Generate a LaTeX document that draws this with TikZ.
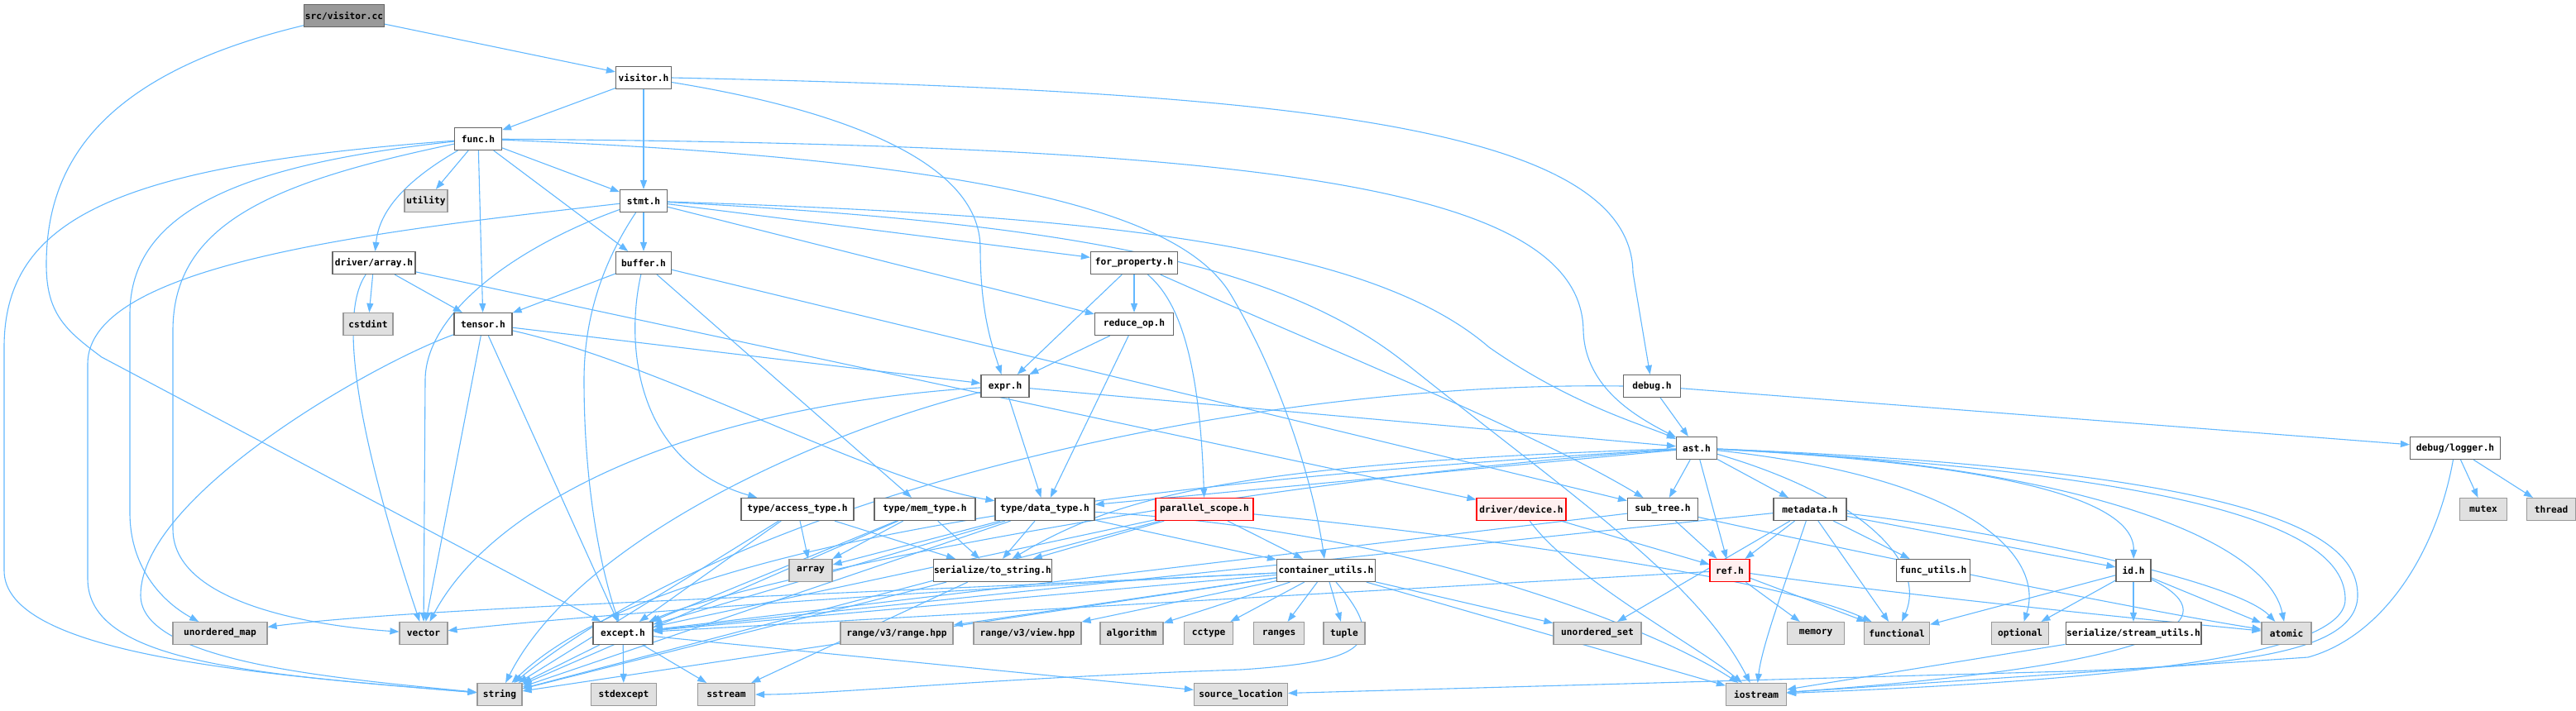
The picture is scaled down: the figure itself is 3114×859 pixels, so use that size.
\documentclass[tikz,border=0pt]{standalone}
\usepackage{fontspec}
\newfontfamily\dox{DejaVu Sans Mono}
\usetikzlibrary{arrows.meta}
\definecolor{edgeblue}{HTML}{63B8FF}
\definecolor{boxline}{HTML}{666666}
\definecolor{sysline}{HTML}{999999}
\definecolor{sysfill}{HTML}{E0E0E0}
\definecolor{rootfill}{HTML}{999999}
\definecolor{redline}{HTML}{FF0000}
\definecolor{redfill}{HTML}{FFF0F0}
\pgfdeclarelayer{bg}
\pgfsetlayers{bg,main}
\tikzset{
  hdr/.style={draw=boxline, fill=white, line width=0.6pt, minimum height=13.5pt,
    inner xsep=0.5pt, inner ysep=0pt, font=\dox\bfseries\fontsize{5.6}{6}\selectfont},
  sys/.style={hdr, draw=sysline, fill=sysfill},
  redh/.style={hdr, draw=redline, fill=redfill},
  root/.style={hdr, draw=boxline, fill=rootfill},
  bw/.style={minimum width=#1*0.5pt},
  con/.style={draw=edgeblue, line width=0.55pt, -{Triangle[length=5.5pt,width=4pt]}}
}
\begin{document}
\begin{tikzpicture}[x=0.5pt,y=-0.5pt]
\useasboundingbox (0,0) rectangle (3114,859);
% nodes
\node[root, bw=94] (cc) at (416,19) {src/visitor.cc};
\node[hdr, bw=67] (visitor) at (778,94) {visitor.h};
\node[hdr, bw=57] (func) at (578,168) {func.h};
\node[sys, bw=52] (utility) at (515,243) {utility};
\node[hdr, bw=57] (stmt) at (778,243) {stmt.h};
\node[hdr, bw=100] (darray) at (452,318) {driver/array.h};
\node[hdr, bw=67] (buffer) at (778,318) {buffer.h};
\node[sys, bw=60] (cstdint) at (445,392) {cstdint};
\node[hdr, bw=70] (tensor) at (584,392) {tensor.h};
\node[hdr, bw=105] (forprop) at (1371,318) {for\_property.h};
\node[hdr, bw=95] (reduceop) at (1371,392) {reduce\_op.h};
\node[hdr, bw=58] (expr) at (1215,467) {expr.h};
\node[hdr, bw=69] (debug) at (1997,467) {debug.h};
\node[hdr, bw=49] (ast) at (2051,542) {ast.h};
\node[hdr, bw=109] (logger) at (2968,542) {debug/logger.h};
\node[hdr, bw=136] (accesstype) at (964,616) {type/access\_type.h};
\node[hdr, bw=122] (memtype) at (1118,616) {type/mem\_type.h};
\node[hdr, bw=120] (datatype) at (1263,616) {type/data\_type.h};
\node[redh, bw=118] (parscope) at (1456,616) {parallel\_scope.h};
\node[redh, bw=108] (device) at (1839,616) {driver/device.h};
\node[hdr, bw=85] (subtree) at (2010,616) {sub\_tree.h};
\node[hdr, bw=88] (metadata) at (2188,616) {metadata.h};
\node[sys, bw=57] (mutex) at (3002,616) {mutex};
\node[sys, bw=59] (thread) at (3084,616) {thread};
\node[hdr, bw=135] (tostring) at (1200,690) {serialize/to\_string.h};
\node[sys, bw=52] (array) at (980,690) {array};
\node[hdr, bw=119] (cutils) at (1603,690) {container\_utils.h};
\node[redh, bw=48] (ref) at (2091,690) {ref.h};
\node[hdr, bw=89] (funcutils) at (2337,690) {func\_utils.h};
\node[hdr, bw=42] (id) at (2579,690) {id.h};
\node[sys, bw=114] (umap) at (266,766) {unordered\_map};
\node[sys, bw=58] (vector) at (512,766) {vector};
\node[hdr, bw=72] (except) at (753,766) {except.h};
\node[sys, bw=136] (rangehpp) at (1084,766) {range/v3/range.hpp};
\node[sys, bw=130] (viewhpp) at (1242,766) {range/v3/view.hpp};
\node[sys, bw=76] (algorithm) at (1368,766) {algorithm};
\node[sys, bw=59] (cctype) at (1461,766) {cctype};
\node[sys, bw=61] (ranges) at (1546,766) {ranges};
\node[sys, bw=50] (tuple) at (1625,766) {tuple};
\node[sys, bw=106] (uset) at (1931,766) {unordered\_set};
\node[sys, bw=69] (memory) at (2195,766) {memory};
\node[sys, bw=79] (functional) at (2293,766) {functional};
\node[sys, bw=69] (optional) at (2442,766) {optional};
\node[hdr, bw=156] (streamutils) at (2579,766) {serialize/stream\_utils.h};
\node[sys, bw=60] (atomic) at (2764,766) {atomic};
\node[sys, bw=54] (string) at (604,840) {string};
\node[sys, bw=79] (stdexcept) at (754,840) {stdexcept};
\node[sys, bw=69] (sstream) at (878,840) {sstream};
\node[sys, bw=113] (sourceloc) at (1500,840) {source\_location};
\node[sys, bw=73] (iostream) at (2123,840) {iostream};

\begin{pgfonlayer}{bg}
% root
\draw[con] (cc) -- (visitor);
\draw[con] (cc) .. controls (120,90) and (56,200) .. (56,320) .. controls (56,380) and (80,400) .. (123,432) -- (except);
% visitor.h
\draw[con] (visitor) -- (func);
\draw[con] (visitor) -- (stmt);
\draw[con] (visitor) .. controls (1000,130) and (1185,190) .. (1185,300) .. controls (1185,380) and (1200,420) .. (expr);
\draw[con] (visitor.east) .. controls (1550,110) and (1972,150) .. (1974,330) -- (debug);
% func.h
\draw[con] (func) -- (utility);
\draw[con] (func) .. controls (470,230) and (457,270) .. (darray);
\draw[con] (func) -- (tensor);
\draw[con] (func) -- (stmt);
\draw[con] (func) -- (buffer);
\draw[con] (func) .. controls (150,200) and (5,260) .. (5,420) -- (5,690) .. controls (5,790) and (300,815) .. (string);
\draw[con] (func) .. controls (280,200) and (157,260) .. (157,380) -- (157,620) .. controls (157,690) and (200,730) .. (umap);
\draw[con] (func) .. controls (330,220) and (209,270) .. (209,400) -- (209,640) .. controls (209,740) and (420,760) .. (vector);
\draw[con] (func) .. controls (1500,175) and (1912,220) .. (1914,400) .. controls (1916,470) and (1980,505) .. (ast);
\draw[con] (func) .. controls (1250,195) and (1440,270) .. (1490,360) .. controls (1555,470) and (1590,600) .. (cutils);
% stmt.h
\draw[con] (stmt) -- (buffer);
\draw[con] (stmt) -- (forprop);
\draw[con] (stmt) -- (reduceop);
\draw[con] (stmt) .. controls (450,280) and (106,320) .. (106,440) -- (106,700) .. controls (106,800) and (300,815) .. (string);
\draw[con] (stmt) .. controls (620,300) and (514,380) .. (514,460) -- (vector);
\draw[con] (stmt) .. controls (720,330) and (706,400) .. (706,460) .. controls (706,600) and (730,700) .. (except);
\draw[con] (stmt) .. controls (1300,260) and (1650,290) .. (1800,420) .. controls (1900,490) and (1990,515) .. (ast);
\draw[con] (stmt) .. controls (1300,270) and (1550,320) .. (1700,440) .. controls (1900,600) and (2050,700) .. (iostream);
% driver/array.h
\draw[con] (darray) -- (cstdint);
\draw[con] (darray) -- (tensor);
\draw[con] (darray) .. controls (395,400) and (470,640) .. (vector);
\draw[con] (darray) -- (device);
% buffer.h
\draw[con] (buffer) -- (tensor);
\draw[con] (buffer) .. controls (755,420) and (770,560) .. (accesstype);
\draw[con] (buffer) -- (memtype);
\draw[con] (buffer) -- (subtree);
% tensor.h
\draw[con] (tensor) .. controls (450,440) and (170,600) .. (170,720) .. controls (170,800) and (400,820) .. (string);
\draw[con] (tensor) -- (vector);
\draw[con] (tensor) -- (except);
\draw[con] (tensor) .. controls (800,440) and (1050,580) .. (datatype);
\draw[con] (tensor) -- (expr);
% for_property.h
\draw[con] (forprop) -- (expr);
\draw[con] (forprop) -- (reduceop);
\draw[con] (forprop) .. controls (1420,360) and (1450,420) .. (parscope);
\draw[con] (forprop) .. controls (1600,420) and (1850,520) .. (subtree);
% reduce_op.h
\draw[con] (reduceop) -- (expr);
\draw[con] (reduceop) -- (datatype);
% expr.h
\draw[con] (expr) -- (datatype);
\draw[con] (expr) -- (ast);
\draw[con] (expr) .. controls (850,490) and (600,600) .. (vector);
\draw[con] (expr) .. controls (1000,520) and (700,650) .. (string);
% debug.h
\draw[con] (debug) -- (ast);
\draw[con] (debug) -- (logger);
\draw[con] (debug.west) .. controls (1500,460) and (900,600) .. (string);
% ast.h
\draw[con] (ast) -- (subtree);
\draw[con] (ast) -- (ref);
\draw[con] (ast) -- (metadata);
\draw[con] (ast) -- (datatype);
\draw[con] (ast) .. controls (2400,560) and (2580,600) .. (id);
\draw[con] (ast) .. controls (2500,560) and (2740,650) .. (atomic);
\draw[con] (ast) .. controls (2250,600) and (2330,680) .. (functional);
\draw[con] (ast) .. controls (2400,580) and (2470,680) .. (optional);
\draw[con] (ast) .. controls (2700,575) and (2835,650) .. (2835,725) .. controls (2835,800) and (2500,825) .. (iostream);
\draw[con] (ast) .. controls (2750,570) and (2850,650) .. (2850,720) .. controls (2850,790) and (2700,805) .. (2500,812) -- (sourceloc);
\draw[con] (ast) .. controls (1500,560) and (1350,600) .. (tostring);
\draw[con] (ast) .. controls (1500,580) and (900,700) .. (except);
\draw[con] (ast) .. controls (1400,580) and (800,650) .. (string);
% debug/logger.h
\draw[con] (logger) -- (mutex);
\draw[con] (logger) -- (thread);
\draw[con] (logger) .. controls (2945,670) and (2880,770) .. (2790,795) -- (iostream);
% type headers
\draw[con] (accesstype) -- (array);
\draw[con] (accesstype) -- (string);
\draw[con] (accesstype) -- (except);
\draw[con] (accesstype) -- (tostring);
\draw[con] (memtype) -- (array);
\draw[con] (memtype) -- (string);
\draw[con] (memtype) -- (except);
\draw[con] (memtype) -- (tostring);
\draw[con] (datatype) -- (array);
\draw[con] (datatype) -- (string);
\draw[con] (datatype) -- (except);
\draw[con] (datatype) -- (tostring);
\draw[con] (datatype) -- (cutils);
\draw[con] (datatype) .. controls (1700,640) and (2000,760) .. (iostream);
% parallel_scope.h
\draw[con] (parscope) -- (cutils);
\draw[con] (parscope) -- (tostring);
\draw[con] (parscope) -- (except);
\draw[con] (parscope) -- (string);
\draw[con] (parscope) .. controls (1800,650) and (2150,700) .. (functional);
% driver/device.h
\draw[con] (device) -- (ref);
\draw[con] (device) .. controls (1900,700) and (2050,780) .. (iostream);
% sub_tree.h
\draw[con] (subtree) -- (ref);
\draw[con] (subtree) -- (except);
\draw[con] (subtree) .. controls (2300,680) and (2600,740) .. (atomic);
% serialize/to_string.h
\draw[con] (tostring) -- (string);
\draw[con] (tostring) -- (sstream);
% container_utils.h
\draw[con] (cutils) -- (algorithm);
\draw[con] (cutils) -- (cctype);
\draw[con] (cutils) -- (ranges);
\draw[con] (cutils) -- (tuple);
\draw[con] (cutils) -- (rangehpp);
\draw[con] (cutils) -- (viewhpp);
\draw[con] (cutils) -- (uset);
\draw[con] (cutils) .. controls (1100,715) and (700,745) .. (vector);
\draw[con] (cutils) .. controls (1000,720) and (500,735) .. (umap);
\draw[con] (cutils) -- (string);
\draw[con] (cutils) -- (except);
\draw[con] (cutils) .. controls (1680,780) and (1650,800) .. (1500,810) .. controls (1200,820) and (1000,840) .. (sstream);
\draw[con] (cutils) -- (iostream);
% ref.h
\draw[con] (ref) -- (memory);
\draw[con] (ref) -- (functional);
\draw[con] (ref) -- (except);
\draw[con] (ref) .. controls (2300,720) and (2600,750) .. (atomic);
% metadata.h
\draw[con] (metadata) -- (ref);
\draw[con] (metadata) -- (functional);
\draw[con] (metadata) -- (funcutils);
\draw[con] (metadata) -- (id);
\draw[con] (metadata) .. controls (2400,640) and (2700,700) .. (atomic);
\draw[con] (metadata) .. controls (2160,700) and (2130,780) .. (iostream);
\draw[con] (metadata) -- (uset);
\draw[con] (metadata) -- (except);
% id.h
\draw[con] (id) -- (functional);
\draw[con] (id) -- (optional);
\draw[con] (id) -- (streamutils);
\draw[con] (id) -- (atomic);
\draw[con] (id) .. controls (2680,740) and (2680,800) .. (iostream);
\draw[con] (streamutils) -- (iostream);
% except.h
\draw[con] (except) -- (string);
\draw[con] (except) -- (stdexcept);
\draw[con] (except) -- (sstream);
\draw[con] (except) -- (sourceloc);
\end{pgfonlayer}
\end{tikzpicture}
\end{document}
